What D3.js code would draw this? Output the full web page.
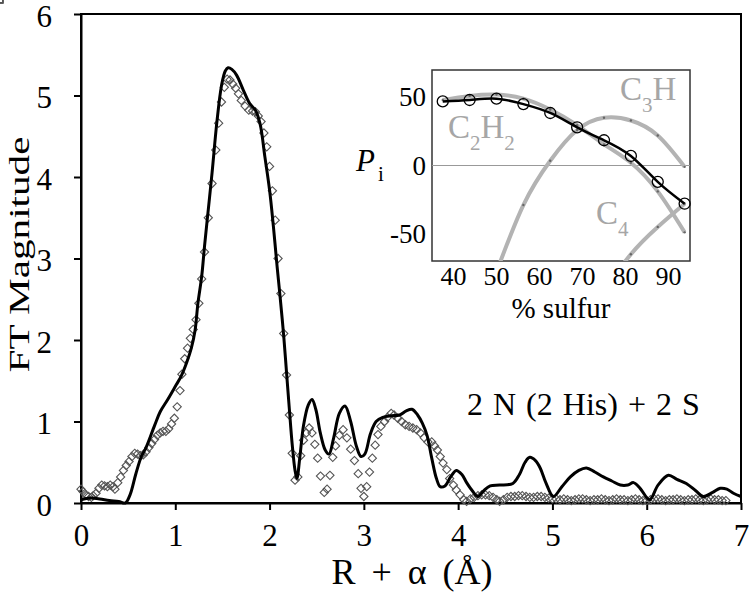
<!DOCTYPE html>
<html>
<head>
<meta charset="utf-8">
<script src="https://cdn.jsdelivr.net/npm/d3@7"></script>
<style>
  body { margin: 0; background: #fff; }
  svg { display: block; font-family: "Liberation Serif", "Times New Roman", serif; }
</style>
</head>
<body>
<div id="chart"></div>
<script>
// EXAFS Fourier transform: fit (line) and experiment (diamonds), R + alpha in Angstrom
var fitR = [0.00,0.10,0.20,0.30,0.40,0.47,0.52,0.58,0.64,0.69,0.78,0.84,0.92,1.01,1.06,1.12,1.17,1.21,1.24,1.28,1.31,1.35,1.39,1.44,1.49,1.53,1.56,1.60,1.65,1.72,1.79,1.85,1.90,1.95,2.00,2.04,2.08,2.11,2.15,2.18,2.21,2.24,2.27,2.29,2.32,2.36,2.41,2.45,2.49,2.54,2.59,2.63,2.68,2.74,2.80,2.86,2.92,2.97,3.01,3.07,3.13,3.20,3.29,3.38,3.45,3.51,3.57,3.62,3.67,3.72,3.77,3.81,3.86,3.92,3.98,4.04,4.09,4.15,4.21,4.27,4.34,4.44,4.58,4.65,4.71,4.76,4.82,4.87,4.93,5.01,5.10,5.19,5.28,5.36,5.45,5.54,5.63,5.72,5.80,5.86,5.93,6.03,6.12,6.23,6.32,6.42,6.52,6.60,6.70,6.78,6.85,6.92,7.00];
var fitMag = [0.04,0.06,0.05,0.03,0.02,0.00,0.10,0.35,0.57,0.68,0.95,1.12,1.27,1.45,1.55,1.72,1.90,2.12,2.45,2.78,3.15,3.60,4.05,4.66,5.12,5.30,5.34,5.32,5.25,5.07,4.90,4.82,4.65,4.25,3.84,3.40,2.90,2.55,2.05,1.60,1.15,0.72,0.40,0.30,0.55,0.95,1.20,1.27,1.15,0.85,0.65,0.60,0.80,1.10,1.19,1.00,0.70,0.57,0.60,0.85,1.00,1.05,1.07,1.08,1.13,1.15,1.08,0.98,0.83,0.55,0.30,0.20,0.21,0.32,0.40,0.35,0.25,0.15,0.08,0.15,0.21,0.22,0.24,0.35,0.50,0.56,0.52,0.43,0.25,0.08,0.20,0.32,0.40,0.43,0.38,0.32,0.27,0.22,0.22,0.25,0.18,0.04,0.22,0.34,0.29,0.24,0.15,0.08,0.13,0.18,0.17,0.12,0.08];

var expR = [0.00,0.02,0.05,0.08,0.11,0.13,0.16,0.19,0.22,0.25,0.28,0.31,0.34,0.36,0.39,0.42,0.45,0.48,0.51,0.54,0.57,0.60,0.63,0.66,0.69,0.72,0.75,0.78,0.81,0.84,0.87,0.90,0.93,0.96,0.99,1.02,1.05,1.07,1.10,1.13,1.16,1.19,1.22,1.25,1.28,1.31,1.35,1.39,1.43,1.46,1.49,1.52,1.55,1.58,1.61,1.64,1.67,1.70,1.74,1.78,1.82,1.85,1.88,1.91,1.94,1.97,2.00,2.03,2.06,2.09,2.12,2.15,2.18,2.21,2.24,2.27,2.30,2.33,2.36,2.39,2.42,2.45,2.48,2.51,2.54,2.58,2.61,2.64,2.67,2.70,2.74,2.78,2.82,2.86,2.90,2.94,2.97,3.00,3.03,3.06,3.09,3.12,3.15,3.18,3.22,3.25,3.29,3.32,3.36,3.40,3.44,3.48,3.52,3.56,3.60,3.64,3.68,3.72,3.75,3.78,3.81,3.84,3.88,3.91,3.95,3.98,4.02,4.06,4.09,4.13,4.17,4.21,4.25,4.29,4.33,4.37,4.41,4.44,4.48,4.52,4.56,4.60,4.64,4.68,4.72,4.76,4.80,4.84,4.88,4.92,4.96,5.00,5.04,5.08,5.12,5.16,5.20,5.24,5.28,5.32,5.36,5.40,5.44,5.48,5.52,5.56,5.60,5.64,5.68,5.72,5.76,5.80,5.84,5.88,5.92,5.96,6.00,6.04,6.08,6.12,6.16,6.20,6.24,6.28,6.32,6.36,6.40,6.44,6.48,6.52,6.56,6.60,6.64,6.68,6.72,6.76,6.80,6.84,6.88,6.92,6.96,7.00];
var expMag = [0.17,0.14,0.10,0.08,0.07,0.09,0.12,0.18,0.22,0.21,0.20,0.22,0.20,0.17,0.25,0.32,0.40,0.46,0.51,0.57,0.61,0.60,0.58,0.59,0.63,0.68,0.73,0.78,0.83,0.86,0.88,0.88,0.91,0.97,1.04,1.18,1.38,1.58,1.77,1.90,2.02,2.13,2.25,2.45,2.75,3.08,3.50,3.92,4.33,4.66,4.92,5.10,5.20,5.19,5.14,5.09,5.02,4.94,4.87,4.82,4.81,4.80,4.75,4.68,4.54,4.37,4.13,3.83,3.47,3.00,2.57,2.08,1.57,1.08,0.61,0.28,0.32,0.58,0.77,0.86,0.92,0.86,0.72,0.55,0.33,0.13,0.17,0.34,0.56,0.70,0.83,0.90,0.80,0.66,0.52,0.36,0.18,0.08,0.20,0.38,0.55,0.71,0.84,0.94,1.00,1.05,1.10,1.08,1.04,1.00,0.96,0.94,0.92,0.90,0.86,0.80,0.75,0.75,0.70,0.65,0.57,0.49,0.41,0.30,0.22,0.16,0.10,0.04,0.02,0.05,0.07,0.09,0.10,0.10,0.09,0.07,0.04,0.02,0.04,0.07,0.08,0.08,0.09,0.09,0.08,0.07,0.07,0.08,0.08,0.07,0.06,0.05,0.05,0.04,0.05,0.04,0.03,0.04,0.05,0.05,0.04,0.03,0.04,0.04,0.05,0.04,0.03,0.04,0.05,0.04,0.04,0.03,0.04,0.05,0.04,0.03,0.03,0.04,0.05,0.05,0.04,0.03,0.04,0.04,0.05,0.04,0.03,0.04,0.04,0.05,0.04,0.03,0.04,0.05,0.04,0.04,0.03,0.03];

var xTicks = [0,1,2,3,4,5,6,7];
var yTicks = [0,1,2,3,4,5,6];

// inset: P_i vs % sulfur
var sulfur = [37.5,43.75,50,56.25,62.5,68.75,75,81.25,87.5,93.75];
var pTotal = [47,48,49,45,38.5,28,18.5,7,-12,-28];
var pC2H2 = [48,51,52,49,41,29.5,15.5,2,-19,-49];
var sulfurC3H = [50,56.25,62.5,68.75,75,81.25,87.5,93.75];
var pC3H = [-78,-29,3.5,26,35,33,22,-1];
var sulfurC4 = [75,81.25,87.5,93.75];
var pC4 = [-92,-65,-45,-28];
var insetXTicks = [40,50,60,70,80,90];
var insetYTicks = [-50,0,50];

var W = 750, H = 598;
var svg = d3.select('#chart').append('svg')
    .attr('width', W).attr('height', H);

var x = d3.scaleLinear().domain([0,7]).range([81,741]);
var y = d3.scaleLinear().domain([0,6]).range([503,14]);

var fit = fitR.map(function(r,i){ return [r, fitMag[i]]; });
var exp = expR.map(function(r,i){ return [r, expMag[i]]; });

// frame
svg.append('rect')
    .attr('x', x(0)).attr('y', y(6))
    .attr('width', x(7)-x(0)).attr('height', y(0)-y(6))
    .attr('fill', 'none').attr('stroke', '#000').attr('stroke-width', 2);

var gx = svg.append('g').attr('transform', 'translate(0,' + y(0) + ')')
    .call(d3.axisBottom(x).tickValues(xTicks).tickFormat(d3.format('d'))
        .tickSize(7).tickSizeOuter(0).tickPadding(14));
var gy = svg.append('g').attr('transform', 'translate(' + x(0) + ',0)')
    .call(d3.axisLeft(y).tickValues(yTicks).tickFormat(d3.format('d'))
        .tickSize(7).tickSizeOuter(0).tickPadding(22));
[gx, gy].forEach(function(g){
    g.select('.domain').attr('stroke-width', 2);
    g.selectAll('.tick line').attr('stroke-width', 2);
    g.selectAll('.tick text').attr('font-family', 'Liberation Serif').attr('font-size', 31).attr('fill', '#000');
});
gy.selectAll('.tick text').attr('dy', '0.4em');

svg.append('text')
    .attr('transform', 'translate(29,' + (y(3) - 4) + ') rotate(-90)')
    .attr('text-anchor', 'middle')
    .attr('font-size', 30)
    .attr('textLength', 236).attr('lengthAdjust', 'spacingAndGlyphs')
    .text('FT Magnitude');

svg.append('text')
    .attr('x', 412).attr('y', 584)
    .attr('text-anchor', 'middle')
    .attr('font-size', 36)
    .attr('word-spacing', 7)
    .text('R + \u03b1 (\u00c5)');

// experimental points
var diamond = d3.symbol().type(d3.symbolSquare).size(34);
svg.append('g').selectAll('path')
    .data(exp).join('path')
    .attr('d', diamond)
    .attr('transform', function(d){ return 'translate(' + x(d[0]) + ',' + y(d[1]) + ') rotate(45)'; })
    .attr('fill', 'none').attr('stroke', '#555').attr('stroke-width', 1.1);

// fit
svg.append('path')
    .attr('d', d3.line().x(function(d){ return x(d[0]); }).y(function(d){ return y(d[1]); })
        .curve(d3.curveCatmullRom)(fit))
    .attr('fill', 'none').attr('stroke', '#000').attr('stroke-width', 3)
    .attr('stroke-linejoin', 'round');

svg.append('text')
    .attr('x', 467).attr('y', 415)
    .attr('font-size', 32)
    .attr('word-spacing', 2)
    .text('2 N (2 His) + 2 S');

// ---- inset ----
var ix = d3.scaleLinear().domain([35,95]).range([432,690]);
var iy = d3.scaleLinear().domain([-70,70]).range([261,70]);
var inset = svg.append('g');

inset.append('rect')
    .attr('x', ix(35)).attr('y', iy(70))
    .attr('width', ix(95)-ix(35)).attr('height', iy(-70)-iy(70))
    .attr('fill', '#fff').attr('stroke', '#333').attr('stroke-width', 1.5);

inset.append('clipPath').attr('id', 'iclip')
    .append('rect')
    .attr('x', ix(35)).attr('y', iy(70))
    .attr('width', ix(95)-ix(35)).attr('height', iy(-70)-iy(70));

inset.append('line')
    .attr('x1', ix(35)).attr('x2', ix(95))
    .attr('y1', iy(0)).attr('y2', iy(0))
    .attr('stroke', '#999').attr('stroke-width', 1);

var iline = d3.line().x(function(d){ return ix(d[0]); }).y(function(d){ return iy(d[1]); })
    .curve(d3.curveNatural);
var grayCurves = [
    sulfur.map(function(s,i){ return [s, pC2H2[i]]; }),
    sulfurC3H.map(function(s,i){ return [s, pC3H[i]]; }),
    sulfurC4.map(function(s,i){ return [s, pC4[i]]; })
];
var cg = inset.append('g').attr('clip-path', 'url(#iclip)');
grayCurves.forEach(function(c){
    cg.append('path').attr('d', iline(c))
        .attr('fill', 'none').attr('stroke', '#b3b3b3').attr('stroke-width', 4);
    cg.selectAll(null).data(c).join('circle')
        .attr('cx', function(d){ return ix(d[0]); })
        .attr('cy', function(d){ return iy(d[1]); })
        .attr('r', 1.2).attr('fill', '#666');
});

var tot = sulfur.map(function(s,i){ return [s, pTotal[i]]; });
inset.append('path').attr('d', iline(tot))
    .attr('fill', 'none').attr('stroke', '#000').attr('stroke-width', 2.5);
inset.selectAll('circle.pt').data(tot).join('circle')
    .attr('class', 'pt')
    .attr('cx', function(d){ return ix(d[0]); })
    .attr('cy', function(d){ return iy(d[1]); })
    .attr('r', 5.5).attr('fill', 'none').attr('stroke', '#000').attr('stroke-width', 1.3);

inset.selectAll('text.xt').data(insetXTicks).join('text')
    .attr('class', 'xt')
    .attr('x', function(d){ return ix(d); }).attr('y', 285)
    .attr('text-anchor', 'middle').attr('font-size', 26)
    .text(function(d){ return d; });
inset.selectAll('text.yt').data(insetYTicks).join('text')
    .attr('class', 'yt')
    .attr('x', 426).attr('y', function(d){ return iy(d) + 9; })
    .attr('text-anchor', 'end').attr('font-size', 27)
    .text(function(d){ return d; });

inset.append('text')
    .attr('x', ix(65)).attr('y', 318)
    .attr('text-anchor', 'middle').attr('font-size', 29)
    .text('% sulfur');

var pl = inset.append('text').attr('x', 356).attr('y', 171).attr('font-size', 31);
pl.append('tspan').attr('font-style', 'italic').text('P');
pl.append('tspan').attr('font-size', 21).attr('dx', 3).attr('dy', 10).text('i');

function chem(px, py, parts) {
    var t = inset.append('text').attr('x', px).attr('y', py)
        .attr('font-size', 33).attr('fill', '#a6a6a6');
    parts.forEach(function(p){
        if (p[1]) t.append('tspan').attr('font-size', 21).attr('dy', 12).text(p[0]);
        else t.append('tspan').attr('dy', p[2] || 0).text(p[0]);
    });
}
chem(620, 100, [['C',0],['3',1],['H',0,-12]]);
chem(448, 138, [['C',0],['2',1],['H',0,-12],['2',1]]);
chem(596, 224, [['C',0],['4',1]]);
</script>
</body>
</html>
